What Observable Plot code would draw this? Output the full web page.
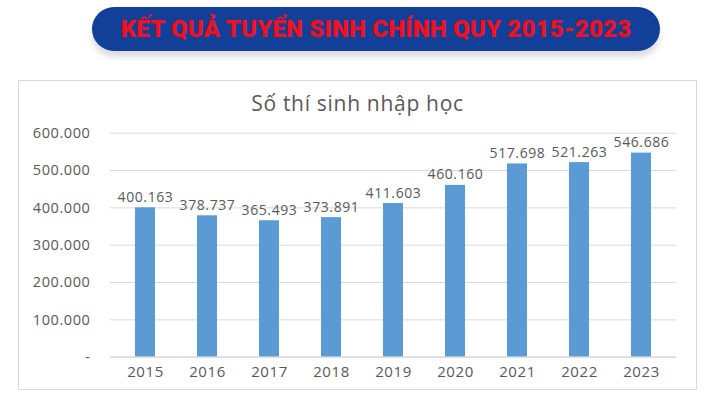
<!DOCTYPE html>
<html>
<head>
<meta charset="utf-8">
<script src="https://cdn.jsdelivr.net/npm/d3@7"></script>
<script src="https://cdn.jsdelivr.net/npm/@observablehq/plot@0.6"></script>
<style>
  html, body { margin: 0; padding: 0; background: #ffffff; }
  #page { position: relative; width: 710px; height: 413px; overflow: hidden; background: #fff; }
  #banner {
    position: absolute; left: 92px; top: 7px; width: 568px; height: 44px;
    background: #123f98; border-radius: 22px;
    box-shadow: 0 6px 6px rgba(0,0,0,0.14);
    display: flex; align-items: center; justify-content: center;
    font-family: Roboto, sans-serif; font-weight: 900; font-size: 24px; letter-spacing: 0.2px;
    color: #f2101e; white-space: nowrap;
  }
  #frame {
    position: absolute; left: 18px; top: 80px; width: 677px; height: 308px;
    border: 1.5px solid #d9d9d9; background: #fff;
  }
  #ctitle {
    position: absolute; left: 0; top: 89px; width: 715px; text-align: center;
    font-family: "Open Sans", sans-serif; font-size: 21px; letter-spacing: 0.7px; color: #595959;
  }
  #chart { position: absolute; left: 0; top: 115px; }
  #chart svg text { letter-spacing: 0.6px; }
</style>
</head>
<body>
<div id="page">
  <div id="banner">KẾT QUẢ TUYỂN SINH CHÍNH QUY 2015-2023</div>
  <div id="frame"></div>
  <div id="ctitle">Số thí sinh nhập học</div>
  <div id="chart"></div>
</div>
<script>
const years = ["2015","2016","2017","2018","2019","2020","2021","2022","2023"];
const students = [400163, 378737, 365493, 373891, 411603, 460160, 517698, 521263, 546686];
const yTicks = [0, 100000, 200000, 300000, 400000, 500000, 600000];

const data = years.map((y, i) => ({year: y, value: students[i]}));
const vn = d3.formatLocale({decimal: ",", thousands: ".", grouping: [3], currency: ["", ""]});
const fmt = vn.format(",d");
const tickFmt = v => v === 0 ? "-" : fmt(v);

const chart = Plot.plot({
  width: 710,
  height: 275,
  marginLeft: 110,
  marginRight: 34,
  marginTop: 17.7,
  marginBottom: 33.3,
  style: {fontFamily: "'Open Sans', sans-serif", fontSize: "14px", color: "#595959", background: "transparent"},
  x: {domain: years, paddingInner: 0.68, paddingOuter: 0.34, label: null},
  y: {domain: [0, 600000], label: null},
  marks: [
    Plot.gridY(yTicks, {stroke: "#d9d9d9", strokeOpacity: 1, strokeWidth: 1}),
    Plot.axisY(yTicks, {tickSize: 0, tickPadding: 20, tickFormat: tickFmt, fill: "#595959", label: null, fontSize: 14.5}),
    Plot.axisX({tickSize: 0, tickPadding: 9, fill: "#595959", label: null, fontSize: 15}),
    Plot.barY(data, {x: "year", y: "value", fill: "#5b9bd5"}),
    Plot.ruleY([0], {stroke: "#d9d9d9", strokeWidth: 1.2}),
    Plot.text(data, {x: "year", y: "value", text: d => fmt(d.value), lineAnchor: "bottom", dy: -6, fill: "#595959", fontSize: 14})
  ]
});
document.getElementById("chart").appendChild(chart);
</script>
</body>
</html>
